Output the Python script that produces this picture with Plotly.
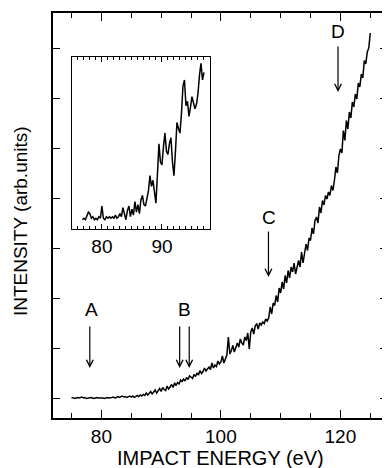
import numpy as np
import plotly.graph_objects as go

# ---- main curve: impact energy (eV) sampled every 0.25 eV from 75 eV ----
main_start = 75.0
main_step = 0.25
main_intensity = [
    # 75 - 84.75
    0.00, 0.01, -0.01, 0.00, 0.01, 0.00, 0.01, 0.02, 0.00, 0.01,
    -0.01, 0.00, 0.00, 0.01, 0.00, -0.01, 0.00, 0.01, 0.00, 0.00,
    0.01, 0.00, -0.01, 0.00, 0.01, 0.00, 0.00, 0.01, 0.02, 0.00,
    0.01, 0.03, 0.01, 0.02, 0.04, 0.02, 0.03, 0.01, 0.02, 0.04,
    # 85 - 89.75
    0.02, 0.04, 0.01, 0.03,
    0.05, 0.03, 0.06, 0.04,
    0.07, 0.05, 0.10, 0.06,
    0.09, 0.13, 0.08, 0.11,
    0.16, 0.10, 0.14, 0.19,
    # 90 - 99.75
    0.13, 0.21, 0.17, 0.15,
    0.24, 0.18, 0.22, 0.27,
    0.21, 0.30, 0.25, 0.31,
    0.28, 0.36, 0.33, 0.38,
    0.34, 0.41, 0.37, 0.44,
    0.42, 0.39, 0.47, 0.43,
    0.50, 0.46, 0.55, 0.49,
    0.53, 0.60, 0.54, 0.58,
    0.62, 0.57, 0.70, 0.60,
    0.66, 0.63, 0.74, 0.68,
    # 100 - 109.75
    0.72, 0.84, 0.70, 0.78,
    0.86, 1.22, 0.88, 0.95,
    1.05, 0.92, 1.00, 1.10,
    1.02, 1.18, 1.10, 1.06,
    1.22, 1.15, 1.30, 0.98,
    1.32, 1.40, 1.28, 1.45,
    1.48, 1.38, 1.50, 1.46,
    1.52, 1.49, 1.58, 1.54,
    1.60, 1.82, 1.68, 1.90,
    1.85, 2.05, 1.92, 2.20,
    # 110 - 119.75
    2.10, 2.32, 2.18, 2.45,
    2.30, 2.55, 2.40, 2.62,
    2.52, 2.70, 2.48, 2.64,
    2.75, 2.62, 2.92, 2.70,
    2.88, 3.08, 2.95, 3.20,
    3.15, 3.40, 3.28, 3.55,
    3.62, 3.50, 3.82, 3.70,
    3.95, 3.86, 4.05, 3.98,
    4.12, 4.05, 4.25, 4.15,
    4.35, 4.62, 4.50, 4.85,
    # 120 - 125
    4.98, 4.90, 5.35, 5.15,
    5.55, 5.38, 5.72, 5.60,
    5.92, 5.82, 6.08, 5.98,
    6.30, 6.22, 6.48, 6.40,
    6.75, 6.68, 6.92, 7.00,
    7.30,
]

# ---- inset curve (magnified threshold region), every 0.25 eV from 76.75 eV ----
inset_start = 76.75
inset_step = 0.25
inset_intensity = [
    0.00, 0.01, 0.00, 0.02, 0.05, 0.04, 0.01, 0.02, 0.00, 0.01,
    0.00, 0.02, 0.01, 0.09, 0.01, 0.00, 0.02, 0.01, 0.02, 0.01,
    0.02, 0.01, 0.03, 0.01, 0.02, 0.04, 0.02, 0.08, 0.03, 0.00,
    0.06, 0.09, 0.02, 0.07, 0.03, 0.12, 0.05, 0.10, 0.04, 0.13,
    0.16, 0.10, 0.09, 0.14, 0.19, 0.29, 0.22, 0.26, 0.18, 0.11,
    0.30, 0.50, 0.38, 0.36, 0.48, 0.57, 0.45, 0.43, 0.50, 0.54,
    0.38, 0.29, 0.45, 0.64, 0.60, 0.57, 0.70, 0.88, 0.92, 0.75,
    0.78, 0.68, 0.74, 0.81, 0.77, 0.73, 0.76, 0.83, 0.95, 1.03,
    0.92, 0.97,
]

# ---- labelled features ----
feature_labels = ["A", "B", "C", "D"]
feature_label_x = [78.3, 93.9, 108.0, 119.6]
feature_label_y = [1.78, 1.78, 3.62, 7.33]
arrow_x = [78.06, 93.1, 94.7, 107.96, 119.6]
arrow_tail_y = [1.46, 1.46, 1.46, 3.36, 7.06]
arrow_tip_y = [0.60, 0.60, 0.60, 2.42, 6.12]

main_x = main_start + main_step * np.arange(len(main_intensity))
inset_x = inset_start + inset_step * np.arange(len(inset_intensity))

FONT = "Liberation Sans, Arial, Helvetica, sans-serif"

fig = go.Figure()
fig.add_trace(go.Scatter(x=main_x, y=main_intensity, mode="lines",
                         line=dict(color="black", width=1.5),
                         xaxis="x", yaxis="y", showlegend=False))
fig.add_trace(go.Scatter(x=inset_x, y=inset_intensity, mode="lines",
                         line=dict(color="black", width=1.5),
                         xaxis="x2", yaxis="y2", showlegend=False))

annotations = []
for lab, lx, ly in zip(feature_labels, feature_label_x, feature_label_y):
    annotations.append(dict(x=lx, y=ly, xref="x", yref="y", text=lab,
                            showarrow=False, font=dict(size=19, color="black", family=FONT),
                            xanchor="center", yanchor="middle"))
for ax_, tail, tip in zip(arrow_x, arrow_tail_y, arrow_tip_y):
    annotations.append(dict(x=ax_, y=tip, ax=ax_, ay=tail, xref="x", yref="y",
                            axref="x", ayref="y", text="", showarrow=True,
                            arrowhead=5, arrowsize=1.1, arrowwidth=1.2,
                            arrowcolor="black"))
# axis titles
annotations.append(dict(x=0.5, y=-0.099, xref="paper", yref="paper",
                        text="IMPACT ENERGY (eV)", showarrow=False,
                        font=dict(size=20, color="black", family=FONT),
                        xanchor="center", yanchor="middle"))
annotations.append(dict(x=-0.099, y=0.486, xref="paper", yref="paper",
                        text="INTENSITY (arb.units)", showarrow=False, textangle=-90,
                        font=dict(size=19, color="black", family=FONT),
                        xanchor="center", yanchor="middle"))

# page body has an 8px margin, so the figure is sized to fit the 390x468 window
fig.update_layout(
    width=382, height=460,
    margin=dict(l=45, r=1, t=5, b=50),
    paper_bgcolor="white", plot_bgcolor="white",
    font=dict(family=FONT, color="black", size=19),
    showlegend=False,
    annotations=annotations,
    xaxis=dict(range=[71.9, 127.8], showline=True, linecolor="black", linewidth=1.6,
               mirror="ticks", ticks="inside", ticklen=8, tickwidth=1.3, tickcolor="black",
               tick0=80, dtick=20, showgrid=False, zeroline=False,
               tickfont=dict(size=19, family=FONT, color="black"),
               minor=dict(dtick=5, tick0=75, ticks="inside", ticklen=5, tickwidth=1.1,
                          tickcolor="black", showgrid=False)),
    yaxis=dict(range=[-0.4, 7.7], showline=True, linecolor="black", linewidth=1.6,
               mirror="ticks", ticks="inside", ticklen=7, tickwidth=1.3, tickcolor="black",
               tick0=0, dtick=1, showticklabels=False, showgrid=False, zeroline=False),
    xaxis2=dict(domain=[0.0565, 0.470], anchor="y2", range=[75, 98],
                showline=True, linecolor="black", linewidth=1.4, mirror="ticks",
                ticks="inside", ticklen=5, tickwidth=1.2, tickcolor="black",
                tick0=80, dtick=10, showgrid=False, zeroline=False,
                tickfont=dict(size=19, family=FONT, color="black"),
                minor=dict(dtick=1, ticks="inside", ticklen=3, tickwidth=1,
                           tickcolor="black", showgrid=False)),
    yaxis2=dict(domain=[0.467, 0.891], anchor="x2", range=[-0.06, 1.07],
                showline=True, linecolor="black", linewidth=1.4, mirror=True,
                ticks="", showticklabels=False, showgrid=False, zeroline=False),
)

fig.write_html("out.html")
